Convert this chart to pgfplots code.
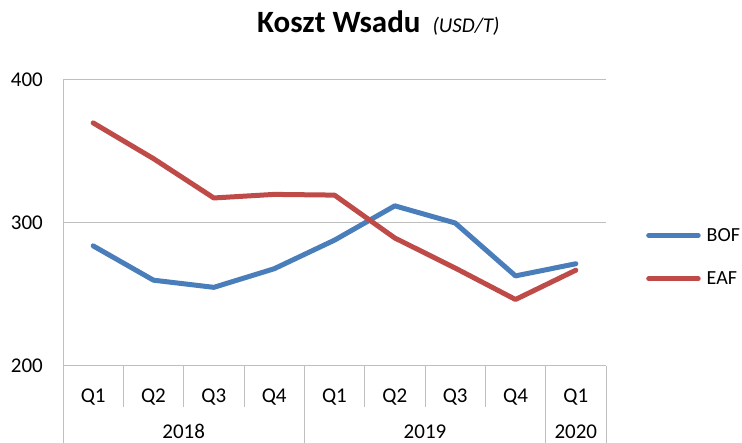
\documentclass[border=0pt]{standalone}
\usepackage{pgfplots}
\pgfplotsset{compat=1.18}
\usepackage{fontspec}
\setmainfont{Carlito}
\definecolor{bof}{RGB}{74,126,187}
\definecolor{eaf}{RGB}{190,75,72}
\begin{document}
\begin{tikzpicture}
\useasboundingbox (0,0) rectangle (742pt,443pt);
\node[anchor=base west, inner sep=0pt] at (257pt,410pt) {\fontsize{31}{36}\selectfont\bfseries Koszt Wsadu\hspace{12pt}{\fontsize{21}{25}\selectfont\mdseries\itshape (USD/T)}};
\begin{axis}[
 at={(63pt,77pt)}, anchor=south west,
 scale only axis, width=543pt, height=286pt,
 xmin=0.5, xmax=9.5, ymin=200, ymax=400,
 ytick={200,300,400},
 xtick={1,...,9},
 xticklabels={Q1,Q2,Q3,Q4,Q1,Q2,Q3,Q4,Q1},
 axis x line=bottom, axis y line=left,
 axis line style={-, gray!50, line width=1pt},
 ymajorgrids, grid style={gray!50, line width=1pt},
 major tick length=0pt,
 tick style={draw=none},
 /pgf/number format/assume math mode=true,
 ticklabel style={font=\fontsize{21}{25}\selectfont},
 yticklabel style={anchor=east, inner sep=0pt, xshift=-20pt},
 xticklabel style={anchor=base, inner sep=0pt, yshift=-37pt},
 clip=false,
 legend style={draw=none, fill=none, at={(rel axis cs:1.0737,0.381)}, anchor=west, inner sep=0pt,
   nodes={inner sep=0pt, font=\fontsize{20}{24}\selectfont}, column sep=6pt, row sep=29pt},
 legend cell align=left,
 legend image code/.code={\draw[#1, line width=5pt, line cap=round] (2.5pt,0pt) -- (52pt,0pt);},
]
\addplot[bof, line width=5pt, line join=round, line cap=round] coordinates {
 (1,284) (2,260) (3,255) (4,268) (5,288) (6,312) (7,300) (8,263) (9,271.5)};
\addlegendentry{BOF}
\addplot[eaf, line width=5pt, line join=round, line cap=round] coordinates {
 (1,370) (2,345) (3,317.5) (4,320) (5,319.5) (6,289.5) (7,268.5) (8,246.5) (9,267)};
\addlegendentry{EAF}
\draw[gray!50, line width=1pt] (axis cs:1.5,200) -- ++(0pt,-41pt);
\draw[gray!50, line width=1pt] (axis cs:2.5,200) -- ++(0pt,-41pt);
\draw[gray!50, line width=1pt] (axis cs:3.5,200) -- ++(0pt,-41pt);
\draw[gray!50, line width=1pt] (axis cs:5.5,200) -- ++(0pt,-41pt);
\draw[gray!50, line width=1pt] (axis cs:6.5,200) -- ++(0pt,-41pt);
\draw[gray!50, line width=1pt] (axis cs:7.5,200) -- ++(0pt,-41pt);
\draw[gray!50, line width=1pt] (axis cs:0.5,200) -- ++(0pt,-78pt);
\draw[gray!50, line width=1pt] (axis cs:4.5,200) -- ++(0pt,-78pt);
\draw[gray!50, line width=1pt] (axis cs:8.5,200) -- ++(0pt,-78pt);
\draw[gray!50, line width=1pt] (axis cs:9.5,200) -- ++(0pt,-78pt);
\node[anchor=base, inner sep=0pt, font=\fontsize{21}{25}\selectfont, yshift=-73pt] at (axis cs:2.5,200) {2018};
\node[anchor=base, inner sep=0pt, font=\fontsize{21}{25}\selectfont, yshift=-73pt] at (axis cs:6.5,200) {2019};
\node[anchor=base, inner sep=0pt, font=\fontsize{21}{25}\selectfont, yshift=-73pt] at (axis cs:9,200) {2020};
\end{axis}
\end{tikzpicture}
\end{document}
